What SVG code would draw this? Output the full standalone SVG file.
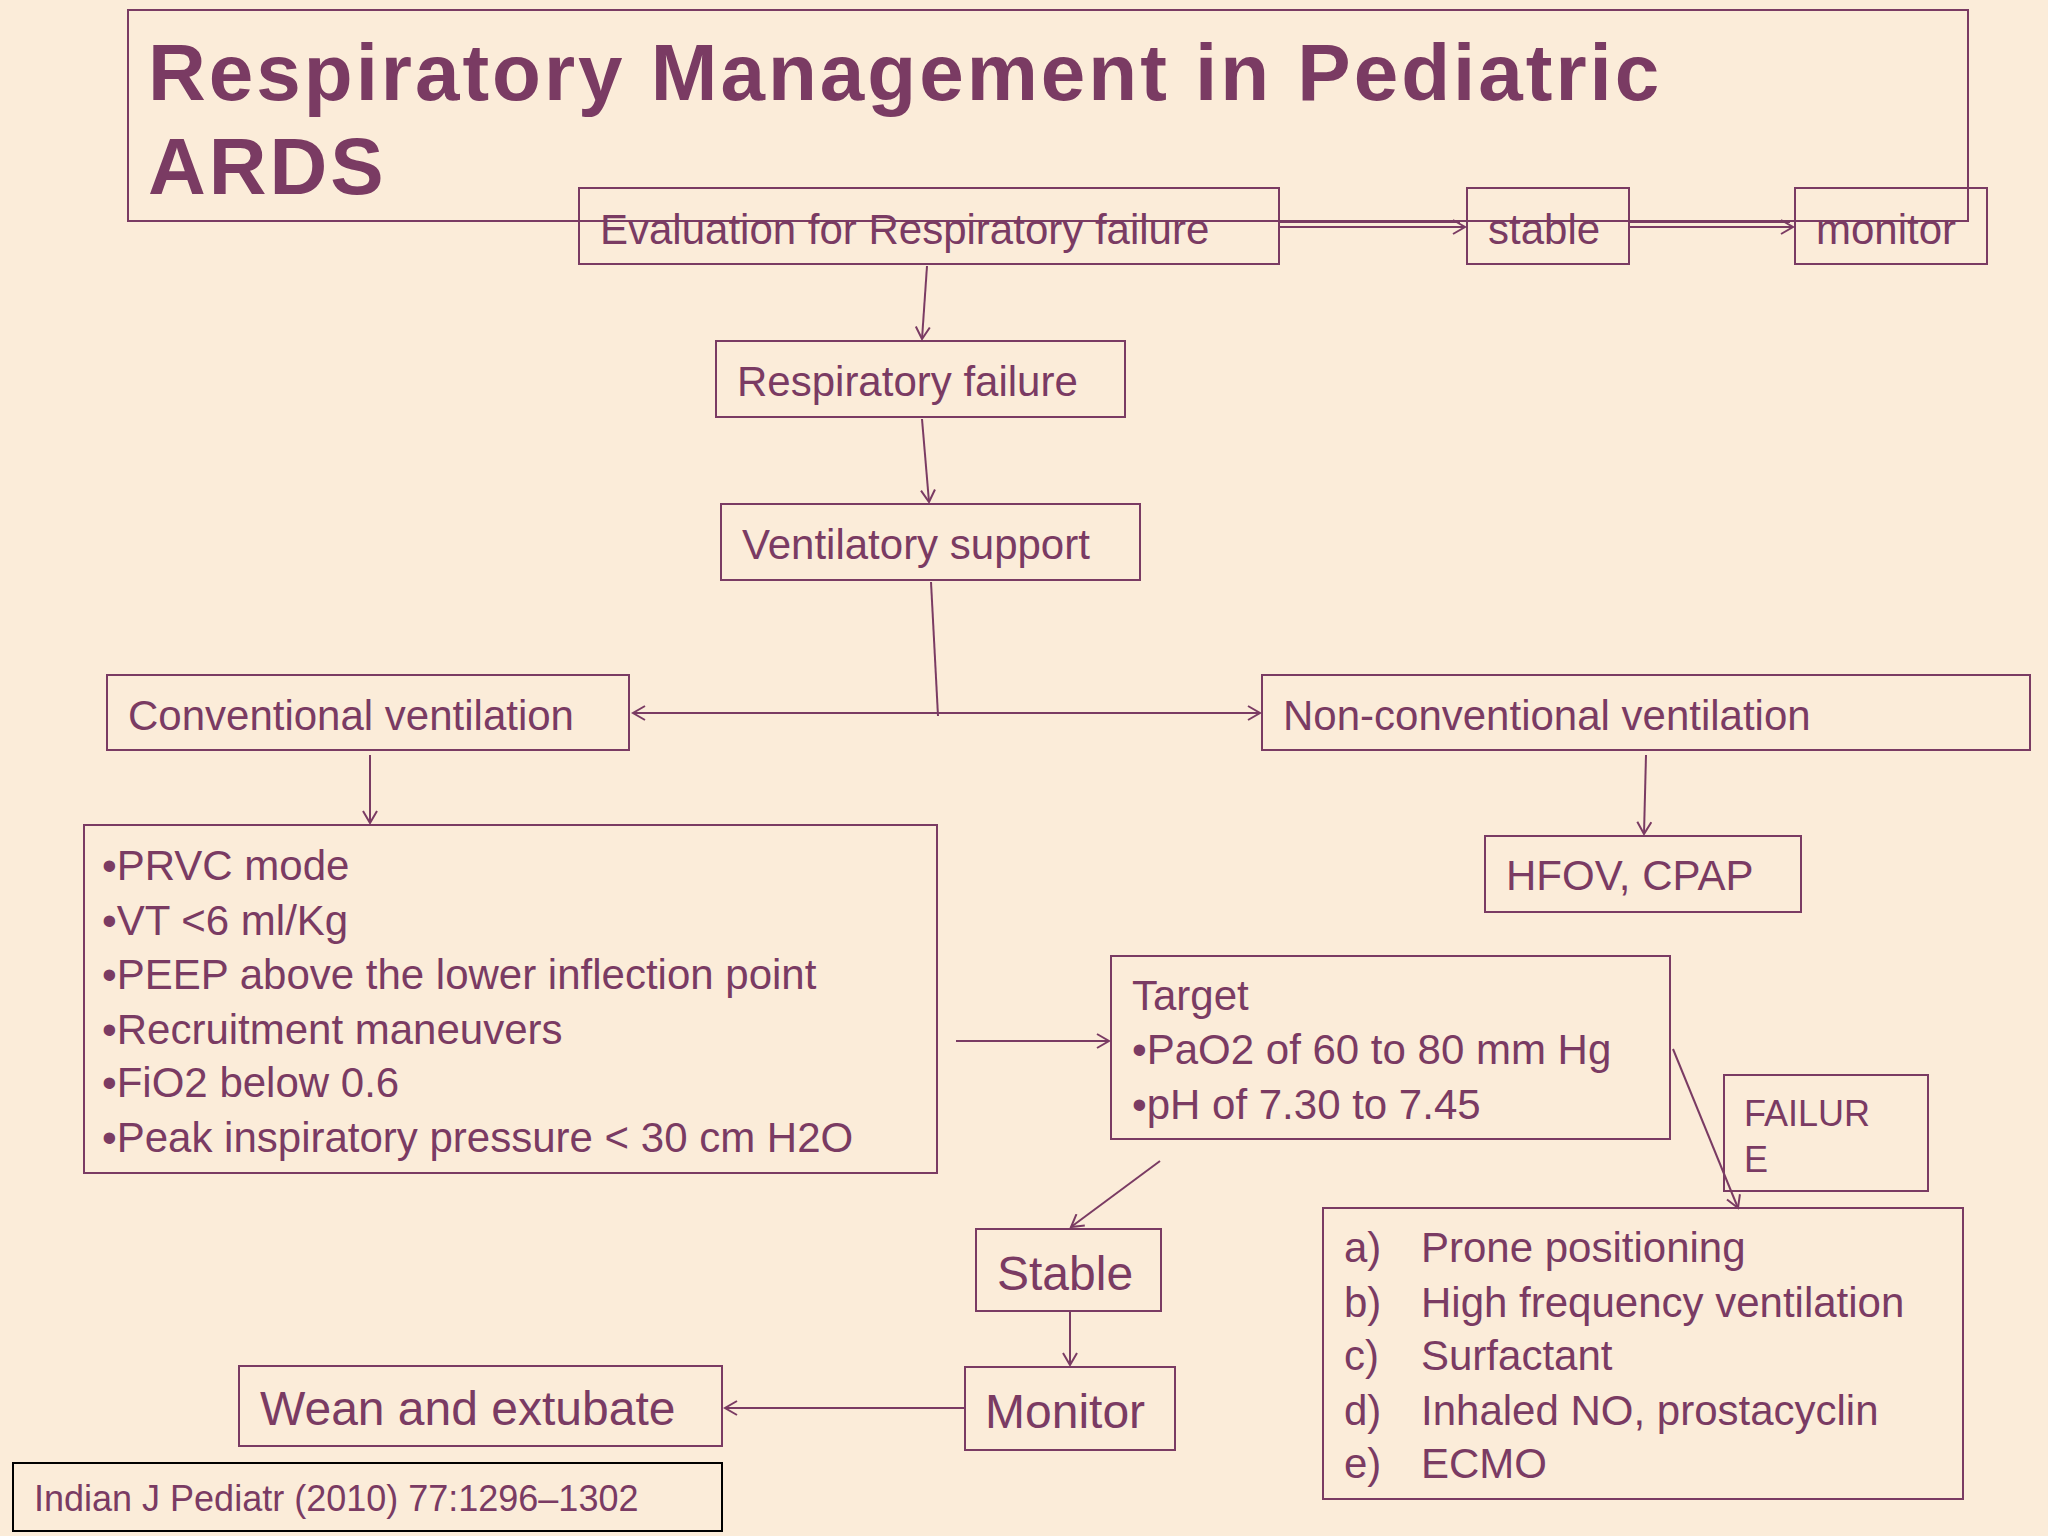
<svg xmlns="http://www.w3.org/2000/svg" width="2048" height="1536" viewBox="0 0 2048 1536">
<defs>
<style>
.b{fill:none;stroke:#7a3b63;stroke-width:2}
.t{font-family:"Liberation Sans",Arial,sans-serif;fill:#7a3b63;font-size:42px}
.c{fill:none;stroke:#7a3b63;stroke-width:2}
</style>
<marker id="a" markerWidth="16" markerHeight="16" refX="14" refY="8" orient="auto" markerUnits="userSpaceOnUse"><path d="M2,1 L14,8 L2,15" fill="none" stroke="#7a3b63" stroke-width="2"/></marker>
<marker id="s" markerWidth="16" markerHeight="16" refX="2" refY="8" orient="auto" markerUnits="userSpaceOnUse"><path d="M14,1 L2,8 L14,15" fill="none" stroke="#7a3b63" stroke-width="2"/></marker>
</defs>
<rect width="2048" height="1536" fill="#fbecd9"/>
<g id="title"><rect class="b" x="128" y="10" width="1840" height="211"/>
<text x="148" y="100" font-family="Liberation Sans,Arial,sans-serif" font-weight="bold" font-size="80" fill="#7a3b63" letter-spacing="3">Respiratory Management in Pediatric</text>
<text x="148" y="194" font-family="Liberation Sans,Arial,sans-serif" font-weight="bold" font-size="80" fill="#7a3b63" letter-spacing="3">ARDS</text></g>
<g id="eval"><rect class="b" x="579" y="188" width="700" height="76"/><text class="t" x="600" y="244">Evaluation for Respiratory failure</text></g>
<g id="stable1"><rect class="b" x="1467" y="188" width="162" height="76"/><text class="t" x="1488" y="244">stable</text></g>
<g id="monitor1"><rect class="b" x="1795" y="188" width="192" height="76"/><text class="t" x="1816" y="244">monitor</text></g>
<g id="respfail"><rect class="b" x="716" y="341" width="409" height="76"/><text class="t" x="737" y="396">Respiratory failure</text></g>
<g id="vent"><rect class="b" x="721" y="504" width="419" height="76"/><text class="t" x="742" y="559">Ventilatory support</text></g>
<g id="conv"><rect class="b" x="107" y="675" width="522" height="75"/><text class="t" x="128" y="730">Conventional ventilation</text></g>
<g id="nonconv"><rect class="b" x="1262" y="675" width="768" height="75"/><text class="t" x="1283" y="730">Non-conventional ventilation</text></g>
<g id="hfov"><rect class="b" x="1485" y="836" width="316" height="76"/><text class="t" x="1506" y="890">HFOV, CPAP</text></g>
<g id="list"><rect class="b" x="84" y="825" width="853" height="348"/>
<text class="t" x="102" y="880">•PRVC mode</text><text class="t" x="102" y="935">•VT &lt;6 ml/Kg</text><text class="t" x="102" y="989">•PEEP above the lower inflection point</text><text class="t" x="102" y="1044">•Recruitment maneuvers</text><text class="t" x="102" y="1097">•FiO2 below 0.6</text><text class="t" x="102" y="1152">•Peak inspiratory pressure &lt; 30 cm H2O</text></g>
<g id="target"><rect class="b" x="1111" y="956" width="559" height="183"/>
<text class="t" x="1132" y="1010">Target</text><text class="t" x="1132" y="1064">•PaO2 of 60 to 80 mm Hg</text><text class="t" x="1132" y="1119">•pH of 7.30 to 7.45</text></g>
<g id="failure"><rect class="b" x="1724" y="1075" width="204" height="116"/><text class="t" style="font-size:36px" x="1744" y="1126">FAILUR</text><text class="t" style="font-size:36px" x="1744" y="1172">E</text></g>
<g id="stable2"><rect class="b" x="976" y="1229" width="185" height="82"/><text class="t" style="font-size:48px" x="997" y="1290">Stable</text></g>
<g id="monitor2"><rect class="b" x="965" y="1367" width="210" height="83"/><text class="t" style="font-size:48px" x="985" y="1428">Monitor</text></g>
<g id="wean"><rect class="b" x="239" y="1366" width="483" height="80"/><text class="t" style="font-size:48px" x="260" y="1425">Wean and extubate</text></g>
<g id="options"><rect class="b" x="1323" y="1208" width="640" height="291"/>
<text class="t" x="1344" y="1262">a)</text><text class="t" x="1421" y="1262">Prone positioning</text>
<text class="t" x="1344" y="1317">b)</text><text class="t" x="1421" y="1317">High frequency ventilation</text>
<text class="t" x="1344" y="1370">c)</text><text class="t" x="1421" y="1370">Surfactant</text>
<text class="t" x="1344" y="1425">d)</text><text class="t" x="1421" y="1425">Inhaled NO, prostacyclin</text>
<text class="t" x="1344" y="1478">e)</text><text class="t" x="1421" y="1478">ECMO</text></g>
<g id="citation"><rect x="13" y="1463" width="709" height="68" fill="none" stroke="#000" stroke-width="2"/><text x="34" y="1511" font-family="Liberation Sans,Arial,sans-serif" font-size="36" fill="#7a3b63">Indian J Pediatr (2010) 77:1296–1302</text></g>
<g id="connectors">
<line class="c" x1="1279" y1="222" x2="1460" y2="222"/><line class="c" x1="1279" y1="227" x2="1465" y2="227" marker-end="url(#a)"/>
<line class="c" x1="1629" y1="222" x2="1790" y2="222"/><line class="c" x1="1629" y1="227" x2="1793" y2="227" marker-end="url(#a)"/>
<line class="c" x1="927" y1="266" x2="922" y2="339" marker-end="url(#a)"/>
<line class="c" x1="922" y1="419" x2="929" y2="502" marker-end="url(#a)"/>
<line class="c" x1="931" y1="582" x2="938" y2="716"/>
<line class="c" x1="633" y1="713" x2="1260" y2="713" marker-start="url(#s)" marker-end="url(#a)"/>
<line class="c" x1="370" y1="755" x2="370" y2="823" marker-end="url(#a)"/>
<line class="c" x1="1646" y1="755" x2="1644" y2="834" marker-end="url(#a)"/>
<line class="c" x1="956" y1="1041" x2="1109" y2="1041" marker-end="url(#a)"/>
<line class="c" x1="1160" y1="1161" x2="1071" y2="1227" marker-end="url(#a)"/>
<line class="c" x1="1070" y1="1311" x2="1070" y2="1365" marker-end="url(#a)"/>
<line class="c" x1="965" y1="1408" x2="725" y2="1408" marker-end="url(#a)"/>
<line class="c" x1="1673" y1="1049" x2="1738" y2="1208" marker-end="url(#a)"/>
</g>
</svg>
